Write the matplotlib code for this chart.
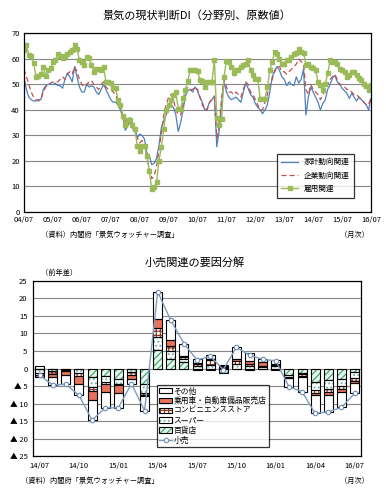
import matplotlib
matplotlib.use("Agg")
import matplotlib.pyplot as plt
from matplotlib.patches import Patch
from matplotlib.lines import Line2D
from matplotlib.legend_handler import HandlerTuple
import numpy as np

plt.rcParams['font.family'] = ['Noto Sans CJK JP', 'DejaVu Sans']
plt.rcParams['hatch.linewidth'] = 0.9

# ---- top chart data (monthly, 2004/07 - 2016/07) ----
household = [52.5, 48, 45, 44, 43.5, 43.5, 44, 44, 48, 49.5,
             50, 50, 50, 50.5, 49.5, 49.5, 48.5, 52, 54.5, 53,
             51, 57, 53, 49, 47, 47, 50, 49, 49.5, 49,
             47, 46, 48, 50, 48, 46, 44, 43, 43, 42,
             40, 37, 32, 33.5, 37, 35, 33, 29, 30.5, 30,
             28.5, 23, 22, 18.5, 19, 21, 26, 33, 36, 38,
             40.5, 42, 41, 38, 31.5, 35, 40, 45.5, 47.5, 48,
             47, 49, 47.5, 45, 43, 40, 40.5, 43, 44, 45.5,
             25.5, 32, 42.5, 51, 47, 45, 44, 44.5, 45, 44,
             43, 47, 50.5, 48.5, 46, 45, 42.5, 41, 40, 38.5,
             40, 42, 47, 53, 55.5, 57, 55.5, 53, 52, 49.5,
             51, 50, 49.5, 53, 50.5, 52, 56, 38, 45, 49,
             47, 45, 43, 40, 42.5, 44, 48, 50, 52.5, 53.5,
             51, 50, 48.5, 47.5, 46.5, 44.5, 46.5, 45, 43.5, 45,
             44, 43, 42, 40, 44.5]
corporate = [56, 53, 50, 47, 45, 44, 43.5, 44, 47, 49,
             50, 50.5, 51, 51, 51, 52, 53, 52, 54, 55,
             54, 57, 55, 52, 50, 49, 50, 51, 51.5, 50,
             49, 48, 50, 51, 49, 48, 48, 47, 46, 43,
             41, 38, 36, 34, 35, 33, 31, 29, 27, 28,
             26, 21, 17, 13, 14, 18, 24, 31, 38, 42,
             45, 46, 44, 40, 38, 38, 42, 47, 49, 48,
             48, 49, 48, 45, 42, 40, 40, 43, 44, 45,
             29, 33, 45, 52, 49, 47, 47, 46, 47, 46,
             45, 48, 51, 50, 47, 46, 44, 42, 40, 40,
             43, 46, 50, 52, 55, 57, 57, 55, 55, 54,
             55, 56, 57, 58, 60, 59, 58, 48, 46, 50,
             48, 47, 46, 44, 46, 48, 50, 52, 53, 54,
             52, 50, 50, 49, 48, 48, 47, 46, 46, 45,
             44, 43, 42, 42, 45]
employment = [63.7, 65.5, 61.5, 61, 58.5, 53, 53.5, 54, 57, 53.5,
              55.5, 56.5, 59, 59.5, 62, 61, 60.5, 61, 62, 62.8,
              63.5, 65.5, 64, 59.5, 59, 57.5, 60.8, 60.5, 57.5, 55,
              56.2, 56, 55.8, 56.9, 51, 51, 50.5, 48.5, 48.5, 44,
              42, 37.5, 34, 36, 36, 34, 32.5, 26, 24, 26,
              26, 21.8, 16, 9, 9.7, 11.5, 20, 25.5, 32.5, 40,
              42, 44, 46, 47, 40.5, 40.5, 44.5, 48, 51.5, 55.8,
              55.5, 55.5, 55.3, 51.6, 51.3, 49, 51, 51, 51, 59.5,
              37, 34, 36.5, 53, 59.3, 59, 57, 54.3, 55.6, 55.6,
              57, 57.5, 58.2, 59.5, 55.6, 53.6, 52.3, 52.3, 44.4, 44.4,
              44.4, 49, 55.6, 59, 62.8, 62.1, 60, 58.2, 58.2, 59.5,
              59.5, 60.8, 62.1, 62.5, 64.1, 62.8, 62.5, 57.5, 58.2, 56.9,
              56.5, 55.6, 51, 49.7, 47.7, 50, 54.3, 59.5, 58.9, 58.9,
              58.2, 56.2, 55.6, 55, 53, 53.6, 55, 55, 53.6, 52.5,
              51.6, 50.3, 49.5, 47.7, 49.7]
top_xlabels = ['04/07', '05/07', '06/07', '07/07', '08/07', '09/07', '10/07',
               '11/07', '12/07', '13/07', '14/07', '15/07', '16/07']

# ---- bottom chart data (2014/07 - 2016/07) ----
dept = [0, 0, 0, 0, -2.4, -2.2, -3.1, 0, -4.3, 5.4, 2.8, 1.9, -0.3,
        -0.3, -1.2, -0.2, -0.5, -0.2, -0.3, -1.9, -1.2, -3.8, -3.3, -3.0, -0.9]
superm = [-1.3, -0.8, -0.5, -1.4, -2.8, -1.6, -1.3, -0.9, -2.8, 3.6, 2.2, 0.7, 0.7,
          0.9, 0.2, 1.2, 0.6, 0.3, 0.7, -0.4, -0.3, -2.4, -2.4, -2.0, -1.9]
cvs = [-0.5, -0.7, -0.2, -0.7, -1.2, -0.5, -0.4, -0.9, -0.4, 2.4, 1.3, 0.6, 0.6,
       1.4, 0.3, 0.8, 0.6, 0.5, 0.3, -0.3, -0.5, -0.9, -0.9, -0.9, -0.8]
car = [-0.7, -1.0, -1.2, -2.3, -2.5, -2.4, -2.3, -1.2, -0.2, 2.8, 1.7, 0.4, 0.2,
       0.3, 0.1, 0.8, 0.8, 1.0, 0.3, -0.2, -0.3, -0.5, -0.9, -0.8, -0.6]
other = [0.6, -2.2, -2.6, -3.2, -5.8, -4.5, -4.1, -1.3, -4.3, 7.6, 5.7, 3.5, 1.2,
         1.2, 0.3, 3.4, 2.3, 1.0, 1.2, -2.4, -4.3, -5.2, -4.8, -4.4, -2.9]
retail = [-1.9, -4.7, -4.5, -7.6, -14.7, -11.2, -11.2, -4.3, -12.0, 21.8, 13.7, 7.1, 2.4,
          3.5, -0.3, 6.0, 3.8, 2.6, 2.2, -5.2, -6.6, -12.8, -12.3, -11.1, -7.1]
bot_xlabels = ['14/07', '14/10', '15/01', '15/04', '15/07', '15/10', '16/01', '16/04', '16/07']
bot_yticks = [25, 20, 15, 10, 5, 0, -5, -10, -15, -20, -25]
bot_ylabels = ['25', '20', '15', '10', '5', '0', '▲ 5', '▲ 10', '▲ 15', '▲ 20', '▲ 25']

fig = plt.figure(figsize=(3.86, 4.97), dpi=100)

# ================= top chart =================
ax1 = fig.add_axes([0.0622, 0.574, 0.899, 0.3586])
x = np.arange(len(household))
ax1.plot(x, household, color='#4F81BD', lw=0.9, label='家計動向関連')
ax1.plot(x, corporate, color='#C0504D', lw=0.9, ls=(0, (4, 2.5)), label='企業動向関連')
ax1.plot(x, employment, color='#9BBB59', lw=1.0, marker='s', ms=3.2, mec='#9BBB59',
         label='雇用関連')
ax1.set_xlim(0, len(household) - 1)
ax1.set_ylim(0, 70)
ax1.set_yticks(range(0, 71, 10))
ax1.set_xticks(range(0, len(household), 12))
ax1.set_xticklabels(top_xlabels)
ax1.tick_params(labelsize=5.5, length=0, pad=3)
ax1.grid(axis='y', color='#868686', lw=0.8)
ax1.set_axisbelow(True)
for s in ax1.spines.values():
    s.set_color('black')
    s.set_linewidth(0.9)
leg1 = ax1.legend(loc='lower right', bbox_to_anchor=(0.963, 0.058), fontsize=5.5,
                  frameon=True, fancybox=False, edgecolor='black', handlelength=2.2,
                  borderpad=0.6, labelspacing=0.7)
leg1.get_frame().set_linewidth(0.9)

fig.text(0.51, 0.968, '景気の現状判断DI（分野別、原数値）', ha='center', va='center', fontsize=8)
fig.text(0.105, 0.528, '（資料）内閣府「景気ウォッチャー調査」', ha='left', va='center', fontsize=5.2)
fig.text(0.955, 0.528, '（月次）', ha='right', va='center', fontsize=5.2)

# ================= bottom chart =================
ax2 = fig.add_axes([0.0855, 0.0819, 0.850, 0.3533])
n = len(retail)
xb = np.arange(n)
w = 0.68
series = [
    (dept, '百貨店', dict(facecolor='#EAF6EF', hatch='/////', hcolor='#3DAA6E')),
    (superm, 'スーパー', dict(facecolor='white', hatch='....', hcolor='#6FB3A8')),
    (cvs, 'コンビニエンスストア', dict(facecolor='white', hatch='++++', hcolor='#8B3A2A')),
    (car, '乗用車・自動車備品販売店', dict(facecolor='#E8735A', hatch=None, hcolor=None)),
    (other, 'その他', dict(facecolor='white', hatch=None, hcolor=None)),
]
pos_base = np.zeros(n)
neg_base = np.zeros(n)
handles = {}
for vals, name, st in series:
    v = np.array(vals, dtype=float)
    base = np.where(v >= 0, pos_base, neg_base)
    if st['hatch']:
        ax2.bar(xb, v, w, bottom=base, facecolor=st['facecolor'], edgecolor=st['hcolor'],
                hatch=st['hatch'], lw=0, zorder=2)
    else:
        ax2.bar(xb, v, w, bottom=base, facecolor=st['facecolor'], lw=0, zorder=2)
    ax2.bar(xb, v, w, bottom=base, fill=False, edgecolor='black', lw=0.8, zorder=3)
    pos_base = pos_base + np.where(v >= 0, v, 0)
    neg_base = neg_base + np.where(v < 0, v, 0)
    if st['hatch']:
        h = (Patch(facecolor=st['facecolor'], edgecolor=st['hcolor'], hatch=st['hatch'], lw=0),
             Patch(fill=False, edgecolor='black', lw=0.8))
    else:
        h = Patch(facecolor=st['facecolor'], edgecolor='black', lw=0.8)
    handles[name] = h

ax2.plot(xb, retail, color='#7F9CC0', lw=1.0, marker='o', ms=3.2, mfc='white',
         mec='#6F8DB5', mew=0.8, zorder=4)
handles['小売'] = Line2D([], [], color='#7F9CC0', lw=1.0, marker='o', ms=3.2,
                        mfc='white', mec='#6F8DB5', mew=0.8)

ax2.set_xlim(-0.5, n - 0.5)
ax2.set_ylim(-25, 25)
ax2.set_yticks(bot_yticks)
ax2.set_yticklabels(bot_ylabels)
ax2.set_xticks(xb[::3])
ax2.set_xticklabels(bot_xlabels)
ax2.tick_params(labelsize=5.5, length=0, pad=4)
ax2.grid(axis='y', color='#868686', lw=0.8, zorder=0)
ax2.set_axisbelow(True)
for s in ax2.spines.values():
    s.set_color('black')
    s.set_linewidth(0.9)

order = ['その他', '乗用車・自動車備品販売店', 'コンビニエンスストア', 'スーパー', '百貨店', '小売']
leg2 = ax2.legend([handles[k] for k in order], order, loc='lower left',
                  bbox_to_anchor=(0.365, 0.03), fontsize=5.6, frameon=True, fancybox=False,
                  edgecolor='black', handlelength=1.6, handletextpad=0.2, borderpad=0.35,
                  labelspacing=0.22, handler_map={tuple: HandlerTuple(ndivide=1)})
leg2.get_frame().set_linewidth(0.9)
leg2.set_zorder(5)

fig.text(0.505, 0.472, '小売関連の要因分解', ha='center', va='center', fontsize=8)
fig.text(0.105, 0.451, '（前年差）', ha='left', va='center', fontsize=5.2)
fig.text(0.055, 0.032, '（資料）内閣府「景気ウォッチャー調査」', ha='left', va='center', fontsize=5.2)
fig.text(0.955, 0.032, '（月次）', ha='right', va='center', fontsize=5.2)

fig.savefig('out.png', dpi=100)
